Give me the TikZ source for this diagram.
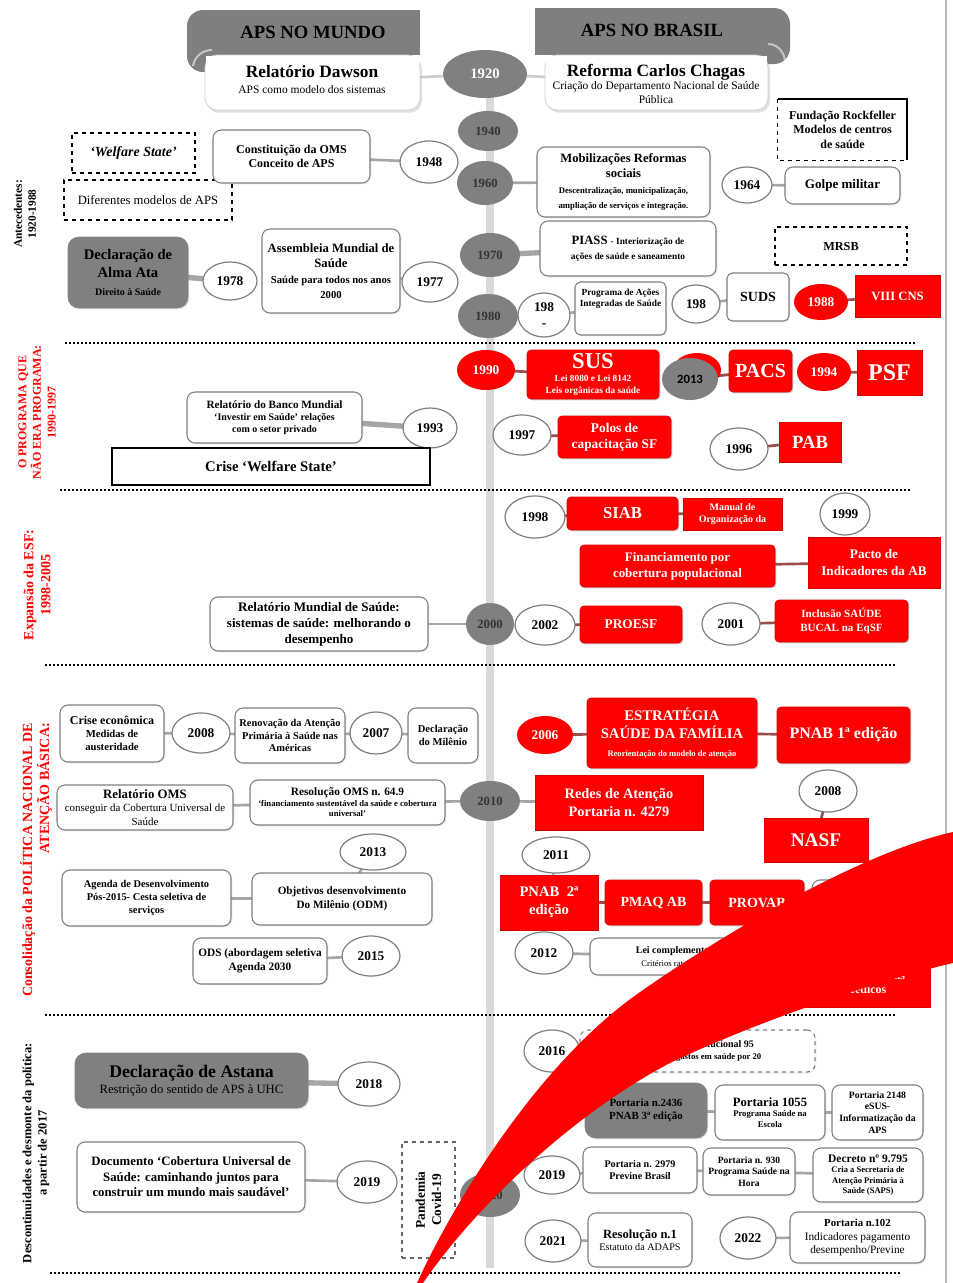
\documentclass[tikz,border=0pt]{standalone}
\usepackage{tikz}
\usepackage{fontspec}
\setmainfont{Liberation Serif}
\newfontfamily\sansb{Carlito}
\usetikzlibrary{shapes.geometric,shadows}
\pgfdeclarelayer{bg}
\pgfsetlayers{bg,main}
\definecolor{tlgray}{HTML}{808080}
\definecolor{tlline}{HTML}{D9D9D9}
\definecolor{boxgray}{HTML}{7F7F7F}
\definecolor{lnkgray}{HTML}{A6A6A6}
\definecolor{rlnkc}{HTML}{9E4B4B}
\definecolor{bandgray}{HTML}{7F7F7F}
\definecolor{boxfill}{HTML}{808080}
\newcommand\fz[1]{\pgfmathsetmacro\fzb{#1*1.22}\fontsize{#1}{\fzb}\selectfont}
\newcommand\mybox[7]{%
  \pgfmathsetmacro\myX{(#3+#5)/2}%
  \pgfmathsetmacro\myY{(#4+#6)/2}%
  \pgfmathsetmacro\myW{(#5-#3)*0.75}%
  \pgfmathsetmacro\myH{(#6-#4)*0.75}%
  \node[#1,minimum width=\myW pt,minimum height=\myH pt] (#2) at (\myX,\myY) {#7};}
\newcommand\myell[7]{%
  \pgfmathsetmacro\myW{2*#5*0.75}%
  \pgfmathsetmacro\myH{2*#6*0.75}%
  \node[#1,minimum width=\myW pt,minimum height=\myH pt] (#2) at (#3,#4) {#7};}
\tikzset{
  fsz/.style={font={\bfseries\fz{#1}}},
  fszm/.style={font={\fz{#1}}},
  wbox/.style={draw=boxgray, fill=white, rounded corners=6pt, line width=0.8pt, align=center, inner sep=1pt, font=\bfseries, drop shadow={opacity=0.15, shadow xshift=1pt, shadow yshift=-1pt}},
  hbox/.style={draw=gray!35, fill=white, rounded corners=9pt, line width=0.6pt, inner sep=0pt, drop shadow={opacity=0.25, shadow xshift=1.5pt, shadow yshift=-2pt}},
  rbox/.style={fill=red, draw=red!85!black, rounded corners=3pt, line width=0.5pt, align=center, text=white, inner sep=1pt, font=\bfseries, drop shadow={opacity=0.35, shadow xshift=1pt, shadow yshift=-1pt}},
  rrect/.style={rbox, rounded corners=0pt},
  gbox/.style={fill=boxfill, draw=boxfill, rounded corners=8pt, align=center, inner sep=1pt, font=\bfseries, drop shadow={opacity=0.2, shadow xshift=1pt, shadow yshift=-1pt}},
  dbox/.style={draw=black, dashed, line width=1pt, fill=white, align=center, inner sep=1pt},
  plainbox/.style={draw=none, align=center, inner sep=1pt, font=\bfseries},
  crect/.style={draw=black, line width=1.2pt, fill=white, align=center, inner sep=1pt, font=\bfseries},
  wyear/.style={ellipse, draw=boxgray, fill=white, line width=0.9pt, inner sep=0pt, align=center, font={\bfseries\fz{10}}},
  gyear/.style={ellipse, fill=tlgray, draw=none, inner sep=0pt, align=center, text=black!80, font={\bfseries\fz{9.5}}},
  ryear/.style={ellipse, fill=red, draw=none, inner sep=0pt, align=center, text=white, font={\bfseries\fz{10}}},
  lnk/.style={draw=lnkgray, line width=2pt},
  rlnk/.style={draw=rlnkc, line width=2pt},
  dotsep/.style={line width=2.2pt, dash pattern=on 1.6pt off 1.4pt},
  sidelab/.style={rotate=90, align=center, font=\bfseries},
}
\begin{document}
\begin{tikzpicture}[x=0.75pt,y=-0.75pt]
\useasboundingbox (0,0) rectangle (953,1283);
\begin{pgfonlayer}{bg}
  \fill[white] (0,0) rectangle (953,1283);
  \draw[tlline, line width=6pt] (490,70) -- (490,1268);
\end{pgfonlayer}

% page edge
\draw[gray!55, line width=1.2pt] (946,0) -- (946,1283);

% separators
\draw[dotsep] (65,343) -- (917,343);
\draw[dotsep] (60,490) -- (910,490);
\draw[dotsep] (45,665) -- (895,665);
\draw[dotsep] (45,1015) -- (895,1015);
\draw[dotsep] (50,1273) -- (900,1273);

% side labels
\node[sidelab, font={\bfseries\fz{8.5}}] (lab1) at (25,214) {Antecedentes:\\1920-1988};
\node[sidelab, text=red, font={\bfseries\fz{9}}] (lab2) at (37,412) {O PROGRAMA QUE\\NÃO ERA PROGRAMA:\\1990-1997};
\node[sidelab, text=red, font={\bfseries\fz{10.5}}] (lab3) at (37,585) {Expansão da ESF:\\1998-2005};
\node[sidelab, text=red, align=right, font={\bfseries\fz{10.5}}] (lab4) at (36,860) {Consolidação da POLÍTICA NACIONAL DE\\ATENÇÃO BÁSICA:};
\node[sidelab, font={\bfseries\fz{9.4}}] (lab5) at (36,1153) {Descontinuidades e desmonte da política:\\a partir de 2017};

% headers
\fill[bandgray] (300,10) rectangle (420,55);
\fill[bandgray, rounded corners=12pt] (187,10) rectangle (330,72);
\draw[gray!45, line width=1.5pt] (193,66) to[out=80,in=180] (212,50);
\node[font={\bfseries\fz{14}}] (mundo) at (313,32) {APS NO MUNDO};
\fill[bandgray] (535,8) rectangle (700,55);
\fill[bandgray, rounded corners=12pt] (650,8) rectangle (790,64);
\draw[gray!45, line width=1.5pt] (785,60) to[out=100,in=0] (768,44);
\node[font={\bfseries\fz{14}}] (brasil) at (652,30) {APS NO BRASIL};

\mybox{hbox}{dawson}{205}{55}{420}{110}{}
\fill[white] (206,55.5) rectangle (419,64);
\node[align=center] (dawsont) at (312,80) {{\bfseries\fz{13}Relatório Dawson}\\{\fz{8.6}APS como modelo dos sistemas}};
\mybox{hbox}{reforma}{545}{55}{768}{110}{}
\fill[white] (546,55.5) rectangle (767,64);
\node[align=center, fszm=8.6] (reformat) at (656,84) {{\bfseries\fz{13}Reforma Carlos Chagas}\\[-1pt]Criação do Departamento Nacional de Saúde\\Pública};

% timeline years
\myell{gyear, text=white, font={\bfseries\fz{11}}}{y1920}{485}{74}{42}{24}{1920}
\myell{gyear}{y1940}{488}{131}{30}{20}{1940}
\myell{gyear}{y1960}{485}{183}{28}{22}{1960}
\myell{gyear}{y1970}{490}{255}{30}{22}{1970}
\myell{gyear}{y1980}{488}{316}{30}{22}{1980}
\myell{gyear}{y2000}{490}{624}{24}{21}{2000}
\myell{gyear}{y2010}{490}{801}{30}{20}{2010}
\myell{gyear}{y2020}{490}{1195}{30}{22}{2020}

% ---- section 1 left
\mybox{dbox, font={\bfseries\itshape\fz{10.5}}}{welf}{72}{133}{195}{173}{‘Welfare State’}
\mybox{dbox, font={\fz{9.5}}}{difer}{64}{180}{232}{220}{Diferentes modelos de APS}
\mybox{wbox, fsz=9}{const}{213}{130}{370}{183}{Constituição da OMS\\Conceito de APS}
\myell{wyear}{y1948}{429}{162}{29}{21}{1948}
\mybox{gbox, fsz=11}{almaata}{68}{237}{188}{308}{Declaração de\\Alma Ata\\{\fz{7.5}Direito à Saúde}}
\myell{wyear}{y1978}{230}{281}{27}{19}{1978}
\mybox{wbox, fsz=9.5}{assem}{262}{229}{400}{313}{Assembleia Mundial de\\Saúde\\{\fz{8}Saúde para todos nos anos}\\{\fz{8}2000}}
\myell{wyear}{y1977}{430}{282}{28}{20}{1977}

% ---- section 1 right
\mybox{plainbox, fsz=9}{rockf}{778}{99}{907}{160}{Fundação Rockfeller\\Modelos de centros\\de saúde}
\draw[dashed, line width=1pt] (rockf.north west) -- (rockf.south west) -- (rockf.south east);
\draw[line width=1.2pt] (rockf.north west) -- (rockf.north east) -- (rockf.south east);
\mybox{wbox, fsz=9.5}{mobil}{537}{147}{710}{217}{Mobilizações Reformas\\sociais\\{\fz{6.5}Descentralização, municipalização,}\\{\fz{6.5}ampliação de serviços e integração.}}
\myell{wyear}{y1964}{747}{185}{25}{18}{1964}
\mybox{wbox, fsz=9.8}{golpe}{785}{167}{900}{204}{Golpe militar}
\mybox{dbox, font={\bfseries\fz{9.2}}}{mrsb}{775}{227}{907}{265}{MRSB}
\mybox{wbox, fsz=9.5}{piass}{540}{221}{716}{276}{PIASS {\fz{7}- Interiorização de}\\{\fz{7}ações de saúde e saneamento}}
\myell{wyear}{y198a}{544}{315}{26}{22}{198\\-}
\mybox{wbox, rounded corners=4pt}{progr}{575}{282}{666}{335}{}
\node[below=2pt, align=center, font={\bfseries\fz{7}}] (progrt) at (progr.north) {Programa de Ações\\Integradas de Saúde};
\myell{wyear}{y198b}{696}{304}{24}{19}{198}
\mybox{wbox, rounded corners=4pt, fsz=10.5}{suds}{727}{273}{789}{321}{SUDS}
\myell{ryear}{y1988}{821}{302}{27}{18}{1988}
\mybox{rrect, fsz=9.5}{viii}{855}{275}{940}{317}{VIII CNS}

% ---- section 2
\myell{ryear}{y1990}{486}{370}{29}{20}{1990}
\mybox{rbox, fsz=7}{sus}{527}{350}{659}{399}{{\fz{17}SUS}\\[1pt]Lei 8080 e Lei 8142\\Leis orgânicas da saúde}
\myell{ryear}{y1991}{697}{370}{24}{17}{}
\myell{gyear, text=black, font={\sansb\bfseries\fz{9.5}}}{y2013g}{690}{379}{28}{21}{2013}
\mybox{rbox, fsz=15}{pacs}{729}{350}{792}{392}{PACS}
\myell{ryear}{y1994}{824}{372}{27}{19}{1994}
\mybox{rrect, fsz=18}{psf}{857}{350}{922}{395}{PSF}
\mybox{wbox, fsz=7.5}{banco}{187}{392}{362}{443}{{\fz{8.4}Relatório do Banco Mundial}\\‘Investir em Saúde’ relações\\com o setor privado}
\myell{wyear}{y1993}{430}{428}{27}{20}{1993}
\mybox{crect, fsz=11}{crise}{112}{448}{430}{485}{Crise ‘Welfare State’}
\myell{wyear}{y1997}{522}{435}{29}{20}{1997}
\mybox{rbox, fsz=10}{polos}{558}{416}{671}{458}{Polos de\\capacitação SF}
\myell{wyear}{y1996}{739}{449}{29}{21}{1996}
\mybox{rrect, fsz=14}{pab}{779}{422}{841}{462}{PAB}

% ---- section 3
\myell{wyear}{y1998}{535}{517}{30}{21}{1998}
\mybox{rbox, fsz=12.5}{siab}{567}{497}{678}{530}{SIAB}
\mybox{rrect, fsz=7.5}{manual}{683}{498}{782}{530}{Manual de\\Organização da}
\myell{wyear}{y1999}{845}{514}{25}{21}{1999}
\mybox{rbox, fsz=9.7}{financ}{580}{545}{775}{587}{Financiamento por\\cobertura populacional}
\mybox{rrect, fsz=9.9}{pacto}{808}{537}{940}{588}{Pacto de\\Indicadores da AB}
\mybox{wbox, fsz=9.8}{relmund}{210}{597}{428}{651}{Relatório Mundial de Saúde:\\sistemas de saúde: melhorando o\\desempenho}
\myell{wyear}{y2002}{545}{625}{30}{20}{2002}
\mybox{rbox, fsz=10}{proesf}{580}{606}{682}{643}{PROESF}
\myell{wyear}{y2001}{731}{624}{29}{21}{2001}
\mybox{rbox, fsz=8.3}{inclus}{775}{600}{908}{642}{Inclusão SAÚDE\\BUCAL na EqSF}

% ---- section 4 left
\mybox{wbox, fsz=8}{crisec}{60}{705}{164}{762}{{\fz{9}Crise econômica}\\Medidas de\\austeridade}
\myell{wyear}{y2008a}{201}{733}{29}{20}{2008}
\mybox{wbox, fsz=7.8}{renov}{235}{708}{345}{763}{Renovação da Atenção\\Primária à Saúde nas\\Américas}
\myell{wyear}{y2007}{376}{733}{26}{21}{2007}
\mybox{wbox, fsz=7.9}{declm}{408}{708}{478}{763}{Declaração\\do Milênio}
\mybox{wbox, fszm=8.2}{relo}{57}{785}{233}{830}{{\bfseries\fz{9.6}Relatório OMS}\\conseguir da Cobertura Universal de\\Saúde}
\mybox{wbox, fsz=6.5}{resol}{250}{780}{445}{825}{{\fz{8.5}Resolução OMS n. 64.9}\\‘financiamento sustentável da saúde e cobertura\\universal’}
\myell{wyear}{y2013b}{373}{852}{33}{18}{2013}
\mybox{wbox, fsz=7.8}{agenda}{62}{870}{231}{926}{Agenda de Desenvolvimento\\Pós-2015- Cesta seletiva de\\serviços}
\mybox{wbox, fsz=8.4}{odm}{252}{873}{432}{925}{Objetivos desenvolvimento\\Do Milênio (ODM)}
\mybox{wbox, fsz=8.5}{ods}{193}{938}{327}{984}{ODS (abordagem seletiva\\Agenda 2030}
\myell{wyear}{y2015}{371}{956}{29}{20}{2015}

% ---- section 4 right
\myell{ryear}{y2006}{545}{735}{28}{19}{2006}
\mybox{rbox, fsz=11}{esf}{587}{698}{757}{768}{ESTRATÉGIA\\SAÚDE DA FAMÍLIA\\{\fz{6.4}Reorientação do modelo de atenção}}
\mybox{rbox, fsz=12}{pnab1}{777}{707}{910}{763}{PNAB 1ª edição}
\mybox{rrect, fsz=10.8}{redes}{535}{775}{703}{830}{Redes de Atenção\\Portaria n. 4279}
\myell{wyear}{y2008b}{828}{791}{29}{21}{2008}
\mybox{rrect, fsz=14.5}{nasf}{764}{818}{868}{862}{NASF}
\myell{wyear}{y2011}{556}{855}{34}{18}{2011}
\mybox{rrect, fsz=11}{pnab2}{500}{875}{598}{930}{PNAB~ 2ª\\edição}
\mybox{rbox, fsz=10.5}{pmaq}{605}{880}{702}{925}{PMAQ AB}
\mybox{rbox, fsz=10.5}{provab}{710}{880}{804}{925}{PROVAB}
\mybox{wbox}{hidbox}{812}{880}{880}{925}{}
\myell{wyear}{y2012}{544}{953}{29}{21}{2012}
\mybox{wbox, fsz=7.5}{lei}{590}{938}{800}{975}{Lei complementar 141/2012\\{\mdseries\fz{6.5}Critérios rateio: financiamento}}
\mybox{rrect, fsz=9}{maism}{800}{958}{930}{1007}{Programa Mais\\Médicos}

% ---- section 5 left
\mybox{gbox, fszm=9.5}{astana}{75}{1053}{308}{1108}{{\bfseries\fz{13.3}Declaração de Astana}\\Restrição do sentido de APS à UHC}
\myell{wyear}{y2018}{369}{1084}{31}{22}{2018}
\mybox{wbox, fsz=9.6}{docum}{77}{1142}{305}{1212}{Documento ‘Cobertura Universal de\\Saúde: caminhando juntos para\\construir um mundo mais saudável’}
\myell{wyear}{y2019a}{367}{1182}{30}{21}{2019}
\mybox{dbox, draw=gray!80!black, line width=0.8pt}{pand}{402}{1142}{455}{1258}{}
\node[sidelab, font={\bfseries\fz{10}}] (pandt) at (pand.center) {Pandemia\\Covid-19};

% ---- section 5 right
\myell{wyear}{y2016}{552}{1051}{28}{21}{2016}
\mybox{wbox, dashed, fsz=7.5}{ec95}{580}{1030}{815}{1072}{Emenda Constitucional 95\\{\fz{6.5}Congela os gastos em saúde por 20}}
\mybox{gbox, fsz=8.2}{p2436}{585}{1083}{707}{1138}{Portaria n.2436\\PNAB 3ª edição}
\mybox{wbox, fsz=6.5}{p1055}{715}{1085}{825}{1140}{{\fz{9.5}Portaria 1055}\\Programa Saúde na\\Escola}
\mybox{wbox, fsz=7.3}{p2148}{832}{1085}{923}{1140}{Portaria 2148\\eSUS-\\Informatização da\\APS}
\myell{wyear}{y2019b}{552}{1175}{28}{19}{2019}
\mybox{wbox, fsz=7.6}{p2979}{583}{1147}{697}{1193}{Portaria n. 2979\\Previne Brasil}
\mybox{wbox, fsz=7.2}{p930}{703}{1148}{795}{1195}{Portaria n. 930\\Programa Saúde na\\Hora}
\mybox{wbox, fsz=6.4}{decr}{813}{1148}{923}{1202}{{\fz{8.6}Decreto nº 9.795}\\Cria a Secretaria de\\Atenção Primária à\\Saúde (SAPS)}
\myell{wyear}{y2021}{553}{1241}{28}{21}{2021}
\mybox{wbox, fszm=7.6}{resol1}{588}{1213}{692}{1267}{{\bfseries\fz{9.4}Resolução n.1}\\Estatuto da ADAPS}
\myell{wyear}{y2022}{748}{1238}{28}{21}{2022}
\mybox{wbox, fszm=8.5}{p102}{790}{1212}{925}{1263}{{\bfseries\fz{8.1}Portaria n.102}\\Indicadores pagamento\\desempenho/Previne}

% ---- connectors (behind)
\begin{pgfonlayer}{bg}
  \draw[lnk, draw=gray!40] (dawson.center) -- (y1920.center) -- (reforma.center);
  \draw[lnk] (const.center) -- (y1948.center);
  \draw[lnk, line width=4pt] (almaata.center) -- (y1978.center);
  \draw[lnk] (assem.center) -- (y1977.center);
  \draw[lnk] (y1960.center) -- (mobil.center);
  \draw[lnk] (y1964.center) -- (golpe.center);
  \draw[lnk, line width=4pt] (y1970.center) -- (piass.center);
  \draw[lnk] (y198a.center) -- (progr.center);
  \draw[lnk] (y198b.center) -- (suds.center);
  \draw[rlnk] (y1988.center) -- (viii.center);
  \draw[rlnk] (y1990.center) -- (sus.center);
  \draw[rlnk] (y2013g.center) -- (pacs.center);
  \draw[rlnk] (y1994.center) -- (psf.center);
  \draw[lnk, line width=4pt] (banco.center) -- (y1993.center);
  \draw[rlnk] (y1997.center) -- (polos.center);
  \draw[rlnk] (y1996.center) -- (pab.center);
  \draw[rlnk] (y1998.center) -- (siab.center) -- (manual.center);
  \draw[rlnk] (financ.center) -- (pacto.center);
  \draw[lnk] (relmund.center) -- (y2000.center);
  \draw[rlnk] (y2002.center) -- (proesf.center);
  \draw[rlnk] (y2001.center) -- (inclus.center);
  \draw[lnk] (crisec.center) -- (y2008a.center) -- (renov.center) -- (y2007.center) -- (declm.center);
  \draw[lnk] (relo.center) -- (resol.center) -- (y2010.center);
  \draw[lnk] (y2013b.center) -- (odm.center);
  \draw[lnk] (agenda.center) -- (odm.center);
  \draw[lnk] (ods.center) -- (y2015.center);
  \draw[rlnk] (y2006.center) -- (esf.center) -- (pnab1.center);
  \draw[lnk] (y2010.center) -- (redes.center);
  \draw[rlnk] (y2008b.center) -- (nasf.center);
  \draw[lnk] (y2011.center) -- (pnab2.center);
  \draw[rlnk] (pnab2.center) -- (pmaq.center) -- (provab.center) -- (hidbox.center);
  \draw[lnk] (y2012.center) -- (lei.center);
  \draw[lnk, line width=4pt] (astana.center) -- (y2018.center);
  \draw[lnk] (docum.center) -- (y2019a.center);
  \draw[lnk] (y2016.center) -- (ec95.center);
  \draw[lnk] (p2436.center) -- (p1055.center) -- (p2148.center);
  \draw[lnk] (y2019b.center) -- (p2979.center) -- (p930.center) -- (decr.center);
  \draw[lnk] (y2021.center) -- (resol1.center);
  \draw[lnk] (y2022.center) -- (p102.center);
\end{pgfonlayer}

% red swoosh on top
\fill[red] (417,1283) .. controls (455,1200) and (540,1060) .. (643,990)
  .. controls (700,950) and (850,855) .. (953,832) -- (953,963)
  .. controls (880,980) and (760,1020) .. (670,1063)
  .. controls (580,1110) and (480,1200) .. (423,1283) -- cycle;
\end{tikzpicture}
\end{document}
